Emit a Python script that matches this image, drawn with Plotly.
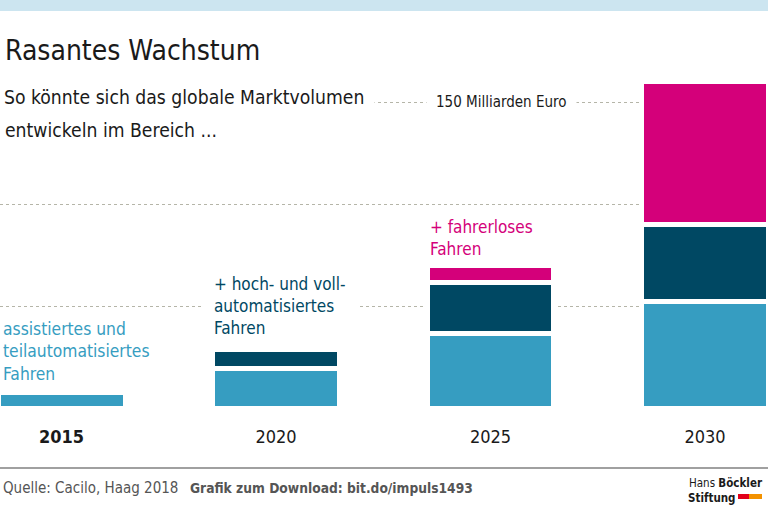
import plotly.graph_objects as go

years = [2015, 2020, 2025, 2030]
year_labels = ["<b>2015</b>", "2020", "2025", "2030"]
assistiert = [8, 19.4, 36.7, 52.3]
hochvoll = [0, 9.6, 25.0, 37.9]
fahrerlos = [0, 0, 8.5, 70.3]
grid_vals = [50, 100, 150]

C_LIGHT = "#369dc1"
C_DARK = "#004863"
C_PINK = "#d4007a"
FONT = "DejaVu Sans Condensed, Roboto, sans-serif"

W, H = 768, 511
T, B = 60, 410  # plot area top/bottom in px


def py(p):
    return (B - p) / (B - T)


def px(p):
    return p / W


fig = go.Figure()
for name, vals, col in [("assistiert", assistiert, C_LIGHT),
                        ("hochvoll", hochvoll, C_DARK),
                        ("fahrerlos", fahrerlos, C_PINK)]:
    fig.add_trace(go.Bar(x=years, y=vals, name=name, width=2.96,
                         marker=dict(color=col, line=dict(color="white", width=5)),
                         hoverinfo="skip"))

ann = []
ann.append(dict(text="Rasantes Wachstum", x=px(3), y=py(51), xanchor="left", yanchor="middle",
                font=dict(size=28, color="#1a1a1a")))
ann.append(dict(text="So könnte sich das globale Marktvolumen",
                x=px(-7), y=py(98), xanchor="left", yanchor="middle", align="left",
                font=dict(size=19.2, color="#1a1a1a"), bgcolor="white", borderpad=10))
ann.append(dict(text="entwickeln im Bereich ...",
                x=px(3), y=py(130), xanchor="left", yanchor="middle", align="left",
                font=dict(size=19.2, color="#1a1a1a")))
ann.append(dict(text="150 Milliarden Euro", x=px(501), y=py(102), xanchor="center", yanchor="middle",
                font=dict(size=15, color="#1a1a1a"), bgcolor="white", borderpad=9))
ann.append(dict(text="assistiertes und<br>teilautomatisiertes<br>Fahren", x=px(1), y=py(351),
                xanchor="left", yanchor="middle", align="left", font=dict(size=17.3, color=C_LIGHT)))
ann.append(dict(text="+ hoch- und voll-<br>automatisiertes<br>Fahren", x=px(201), y=py(306),
                xanchor="left", yanchor="middle", align="left", font=dict(size=17, color=C_DARK),
                bgcolor="white", borderpad=12))
ann.append(dict(text="+ fahrerloses<br>Fahren", x=px(428), y=py(237.5),
                xanchor="left", yanchor="middle", align="left", font=dict(size=17, color=C_PINK)))
ann.append(dict(text="Quelle: Cacilo, Haag 2018", x=px(1), y=py(488), xanchor="left", yanchor="middle",
                font=dict(size=15, color="#555555")))
ann.append(dict(text="<b>Grafik zum Download: bit.do/impuls1493</b>", x=px(188), y=py(488),
                xanchor="left", yanchor="middle", font=dict(size=13.7, color="#555555")))
ann.append(dict(text="Hans <b>Böckler</b>", x=px(764), y=py(483), xanchor="right", yanchor="middle",
                font=dict(size=11.5, color="#1a1a1a"), borderpad=0))
ann.append(dict(text="<b>Stiftung</b>", x=px(687), y=py(497.5), xanchor="left", yanchor="middle",
                font=dict(size=11.5, color="#1a1a1a"), borderpad=0))
for a in ann:
    a.update(xref="paper", yref="paper", showarrow=False)

shapes = [
    dict(type="rect", xref="paper", yref="paper", x0=0, x1=1, y0=py(11), y1=py(0),
         fillcolor="#cce5f0", line=dict(width=0), layer="above"),
    dict(type="line", xref="paper", yref="paper", x0=0, x1=1, y0=py(468), y1=py(468),
         line=dict(color="#808080", width=1.5)),
    dict(type="rect", xref="paper", yref="paper", x0=px(738), x1=px(749), y0=py(499), y1=py(494),
         fillcolor="#e2001a", line=dict(width=0)),
    dict(type="rect", xref="paper", yref="paper", x0=px(749), x1=px(762), y0=py(499), y1=py(494),
         fillcolor="#f39200", line=dict(width=0)),
]

fig.update_layout(
    width=W, height=H, barmode="stack", showlegend=False,
    margin=dict(l=0, r=0, t=T, b=H - B, pad=0),
    paper_bgcolor="white", plot_bgcolor="white",
    font=dict(family=FONT),
    annotations=ann, shapes=shapes,
    xaxis=dict(range=[2013.566, 2031.469], tickvals=years, ticktext=year_labels,
               ticks="outside", ticklen=10, tickcolor="rgba(0,0,0,0)",
               tickfont=dict(size=18, color="#1a1a1a"), showgrid=False, zeroline=False,
               showline=False, fixedrange=True),
    yaxis=dict(range=[-0.74, 171.1], tickvals=grid_vals, showticklabels=False,
               showgrid=True, gridcolor="#b5b5a8", griddash="dot", gridwidth=1,
               zeroline=False, showline=False, fixedrange=True),
)

fig.write_html("out.html", config={"displayModeBar": False},
               post_script="document.body.style.margin='0';document.body.style.overflow='hidden';")
